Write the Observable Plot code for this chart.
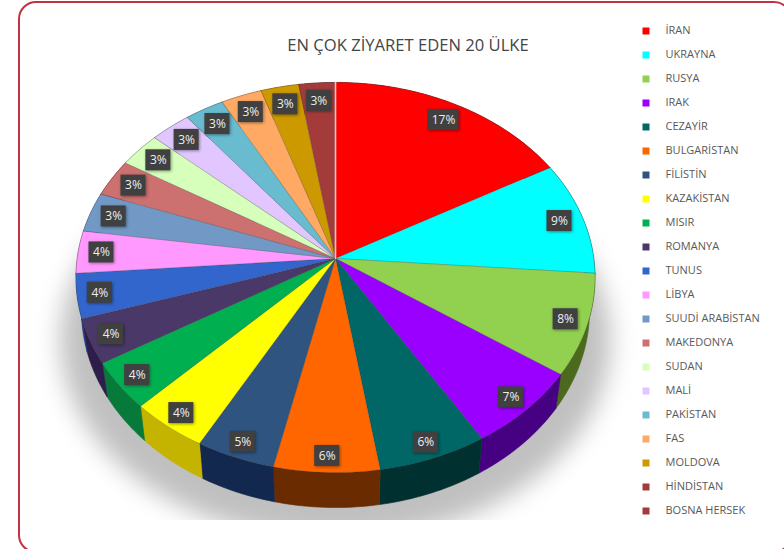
<!DOCTYPE html>
<html lang="tr">
<head>
<meta charset="utf-8">
<script src="https://cdn.jsdelivr.net/npm/d3@7"></script>
<script src="https://cdn.jsdelivr.net/npm/@observablehq/plot@0.6"></script>
<style>
  html, body { margin: 0; padding: 0; background: #fff; overflow: hidden; }
  #stage { position: relative; width: 784px; height: 549px; overflow: hidden; font-family: "Open Sans", sans-serif; }
  #stage > * { position: absolute; }
  #frame { left: 18px; top: 1px; width: 774px; height: 552px; box-sizing: border-box; border: 2px solid #C4323F; border-radius: 18px; }
  #title { left: 208px; top: 33px; width: 400px; text-align: center; font-size: 16.6px; color: #454545; white-space: nowrap; }
  svg { background: transparent; }
</style>
</head>
<body>
<div id="stage"></div>
<script>
const titleText = "EN ÇOK ZİYARET EDEN 20 ÜLKE";
const names = ["İRAN","UKRAYNA","RUSYA","IRAK","CEZAYİR","BULGARİSTAN","FİLİSTİN","KAZAKİSTAN","MISIR","ROMANYA","TUNUS","LİBYA","SUUDİ ARABİSTAN","MAKEDONYA","SUDAN","MALİ","PAKİSTAN","FAS","MOLDOVA","HİNDİSTAN","BOSNA HERSEK"];
const values = [16.8,9.4,8.4,6.7,6.2,6.0,4.5,4.4,4.0,3.7,3.7,3.5,3.3,3.1,2.9,2.8,2.7,2.8,2.6,2.5,0];
const colors = ["#FF0000","#00FFFF","#92D050","#9900FF","#006666","#FF6600","#2F5480","#FFFF00","#00B050","#4A3868","#3366CC","#FF99FF","#7299C6","#CC7070","#D5FFBB","#E1C6FF","#69BBD0","#FFA965","#CC9900","#A33B3B","#A33B3B"];
const wallColors = ["#800000","#008080","#4C6A1E","#460082","#003030","#6A2B00","#13284F","#C4B400","#07793A","#2E1D4A","#1F3F8A","#994C99","#3F5F85","#7A3A3A","#8AAA77","#8A78AA","#3A7A8A","#AA7030","#806000","#6A2020","#6A2020"];

// Projected-circle geometry of the tilted pie, in pixels
const cx = 335, apexY = 258, a = 258.3, b = 193.2, k = 0.0974;
const topCy = 277, topRy = 195, topRx = 259.5;
const botCy = 310, botRy = 197, botRx = 254;
const W = 784, H = 549;

const project = (theta, r = 1) => {
  const d = 1 + k * r * Math.cos(theta);
  return {x: r * Math.sin(theta) / d, y: -r * Math.cos(theta) / d};
};
const toBottom = p => ({
  x: p.x * botRx / topRx,
  y: (p.y - (topCy - apexY) / b) * botRy / topRy + (botCy - apexY) / b
});

const total = d3.sum(values);
let acc = 0;
const slices = names.map((name, i) => {
  const t0 = acc / total * 2 * Math.PI;
  acc += values[i];
  const t1 = acc / total * 2 * Math.PI;
  return {name, value: values[i], color: colors[i], wall: wallColors[i], t0, t1, mid: (t0 + t1) / 2};
}).filter(s => s.value > 0);

const faces = [], walls = [];
for (const s of slices) {
  const n = Math.max(2, Math.ceil((s.t1 - s.t0) / 0.02));
  const rim = d3.range(n + 1).map(j => project(s.t0 + (s.t1 - s.t0) * j / n));
  const apex = {x: 0, y: 0};
  for (const p of [apex, ...rim, apex]) faces.push({...p, name: s.name, color: s.color});
  const low = rim.map(toBottom).reverse();
  for (const p of [...rim, ...low, rim[0]]) walls.push({...p, name: s.name, color: s.wall});
}

const shadow = d3.range(0, 361, 3).map(deg => {
  const t = deg * Math.PI / 180;
  return {x: 275 / a * Math.sin(t), y: (340 - apexY) / b - 200 / b * Math.cos(t)};
});

const seam = [{x: 0, y: 0}, project(0)];

const boxH = 21 / 2 / b;
const labels = slices.map(s => {
  const p = project(s.mid, 0.91 - 0.02 * Math.cos(s.mid));
  const txt = Math.round(s.value) + "%";
  const halfW = (txt.length > 2 ? 31 : 25) / 2 / a;
  return {...p, txt, x1: p.x - halfW, x2: p.x + halfW, y1: p.y - boxH, y2: p.y + boxH};
});

const chart = Plot.plot({
  width: W, height: H,
  marginTop: 0, marginLeft: 0, marginRight: 0, marginBottom: 29,
  x: {type: "linear", domain: [-1, 1], range: [cx - a, cx + a], axis: null},
  y: {type: "linear", domain: [-1, 1], range: [apexY - b, apexY + b], axis: null},
  color: {type: "identity"},
  style: {background: "transparent", fontFamily: "'Open Sans', sans-serif"},
  marks: [
    Plot.line(shadow, {x: "x", y: "y", fill: "#c0c0c0", stroke: "none", clip: "frame", imageFilter: "blur(12px)"}),
    Plot.line(walls, {x: "x", y: "y", z: "name", fill: "color", stroke: "color", strokeWidth: 0.6}),
    Plot.line(faces, {x: "x", y: "y", z: "name", fill: "color", stroke: "#333333", strokeOpacity: 0.3, strokeWidth: 0.7}),
    Plot.line(seam, {x: "x", y: "y", stroke: "#dcc8c8", strokeWidth: 1.6}),
    Plot.rect(labels, {x1: "x1", x2: "x2", y1: "y1", y2: "y2", fill: "#404040", imageFilter: "drop-shadow(1px 1px 1.5px rgba(0,0,0,0.4))"}),
    Plot.text(labels, {x: "x", y: "y", text: "txt", fill: "#eeeeee", fontSize: 12})
  ]
});

const legend = Plot.plot({
  width: 150, height: H,
  marginTop: 0, marginLeft: 0, marginRight: 0, marginBottom: 0,
  x: {type: "linear", domain: [0, 150], range: [0, 150], axis: null},
  y: {type: "point", domain: names, range: [30, 511], padding: 0, axis: null},
  color: {type: "identity"},
  style: {background: "transparent", fontFamily: "'Open Sans', sans-serif"},
  marks: [
    Plot.dot(names, {x: () => 11.5, y: d => d, symbol: "square", r: 3.95, fill: (d, i) => colors[i], stroke: "none", dy: -0.5}),
    Plot.text(names, {x: () => 31, y: d => d, text: d => d, textAnchor: "start", fill: "#595959", fontSize: 11, dy: -1})
  ]
});
legend.style.left = "634px";
legend.style.top = "0";

const stage = document.getElementById("stage");
stage.append(chart, legend);
chart.style.left = "0";
chart.style.top = "0";

const title = document.createElement("div");
title.id = "title";
title.textContent = titleText;
const frame = document.createElement("div");
frame.id = "frame";
stage.append(title, frame);
</script>
</body>
</html>
